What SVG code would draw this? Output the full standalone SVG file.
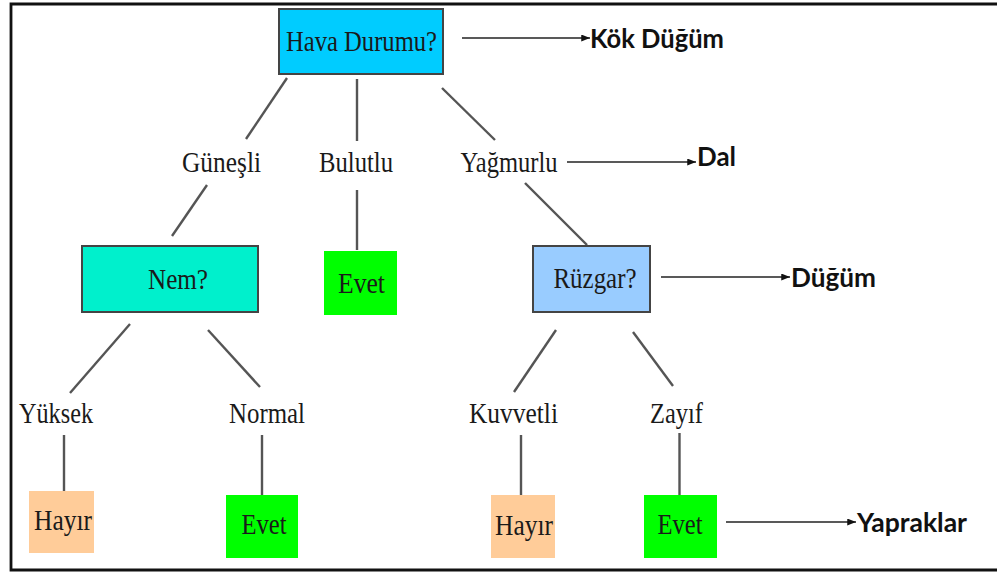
<svg xmlns="http://www.w3.org/2000/svg" width="997" height="572" viewBox="0 0 997 572">
  <defs>
    <marker id="head" viewBox="0 0 10 8" refX="10" refY="4" markerWidth="9" markerHeight="7" markerUnits="userSpaceOnUse" orient="auto">
      <path d="M0,0 L10,4 L0,8 Z" fill="#111"/>
    </marker>
    <style>
      .frame { fill: none; stroke: #111; stroke-width: 2.8; }
      .box { stroke: #444; stroke-width: 2; }
      .leaf { stroke: none; }
      .edge { stroke: #555; stroke-width: 2.4; fill: none; }
      .pointer { stroke: #222; stroke-width: 1.6; fill: none; marker-end: url(#head); }
      .serif { font-family: "Liberation Serif", "Times New Roman", serif; font-size: 28.5px; fill: #1a1a1a; text-anchor: middle; }
      .note { font-family: Lato, "Noto Sans", sans-serif; font-weight: bold; font-size: 27px; fill: #111; }
    </style>
  </defs>

  <rect width="997" height="572" fill="#fff"/>

  <!-- page frame, open on the right -->
  <path class="frame" d="M1000,4 H11 V570 H1000"/>

  <!-- tree edges and labelling pointers -->
  <g id="connectors">
    <line class="edge" x1="287" y1="78" x2="246" y2="139"/>
    <line class="edge" x1="357" y1="79" x2="357" y2="141"/>
    <line class="edge" x1="442" y1="88" x2="495" y2="140"/>
    <line class="edge" x1="207" y1="185" x2="172" y2="236"/>
    <line class="edge" x1="357" y1="190" x2="357" y2="250"/>
    <line class="edge" x1="525" y1="183" x2="587" y2="245"/>
    <line class="edge" x1="130" y1="324" x2="70" y2="393"/>
    <line class="edge" x1="208" y1="330" x2="260" y2="387"/>
    <line class="edge" x1="556" y1="330" x2="514" y2="392"/>
    <line class="edge" x1="633" y1="332" x2="673" y2="386"/>
    <line class="edge" x1="64" y1="435" x2="64" y2="491"/>
    <line class="edge" x1="262" y1="435" x2="262" y2="495"/>
    <line class="edge" x1="521" y1="435" x2="521" y2="495"/>
    <line class="edge" x1="679.5" y1="433" x2="679.5" y2="495"/>

    <line class="pointer" x1="462" y1="38" x2="590" y2="38"/>
    <line class="pointer" x1="567" y1="162" x2="696" y2="162"/>
    <line class="pointer" x1="661" y1="277" x2="790" y2="277"/>
    <line class="pointer" x1="726" y1="522" x2="856" y2="522"/>
  </g>

  <!-- decision nodes -->
  <g id="node-hava">
    <rect class="box" x="279" y="9" width="164" height="65" fill="#00CCFF"/>
    <text class="serif" x="361.5" y="51" textLength="151" lengthAdjust="spacingAndGlyphs">Hava Durumu?</text>
  </g>
  <g id="node-nem">
    <rect class="box" x="82" y="246" width="176" height="66" fill="#00F0CC"/>
    <text class="serif" x="178" y="289" textLength="60" lengthAdjust="spacingAndGlyphs">Nem?</text>
  </g>
  <g id="node-ruzgar">
    <rect class="box" x="533" y="246" width="117" height="66" fill="#99CCFF"/>
    <text class="serif" x="595" y="288" textLength="83" lengthAdjust="spacingAndGlyphs">Rüzgar?</text>
  </g>

  <!-- branch labels -->
  <g id="branch-gunesli"><text class="serif" x="221.5" y="172" textLength="79" lengthAdjust="spacingAndGlyphs">Güneşli</text></g>
  <g id="branch-bulutlu"><text class="serif" x="356" y="172" textLength="74" lengthAdjust="spacingAndGlyphs">Bulutlu</text></g>
  <g id="branch-yagmurlu"><text class="serif" x="509" y="172" textLength="97" lengthAdjust="spacingAndGlyphs">Yağmurlu</text></g>
  <g id="branch-yuksek"><text class="serif" x="56" y="423" textLength="74" lengthAdjust="spacingAndGlyphs">Yüksek</text></g>
  <g id="branch-normal"><text class="serif" x="267" y="423" textLength="76" lengthAdjust="spacingAndGlyphs">Normal</text></g>
  <g id="branch-kuvvetli"><text class="serif" x="513.5" y="423" textLength="89" lengthAdjust="spacingAndGlyphs">Kuvvetli</text></g>
  <g id="branch-zayif"><text class="serif" x="676.5" y="423" textLength="53" lengthAdjust="spacingAndGlyphs">Zayıf</text></g>

  <!-- leaf nodes -->
  <g id="leaf-evet-1">
    <rect class="leaf" x="324" y="251" width="73" height="64" fill="#00FF00"/>
    <text class="serif" x="361.5" y="293" textLength="47" lengthAdjust="spacingAndGlyphs">Evet</text>
  </g>
  <g id="leaf-hayir-1">
    <rect class="leaf" x="29" y="491" width="65" height="62" fill="#FFCC99"/>
    <text class="serif" x="63" y="530" textLength="58" lengthAdjust="spacingAndGlyphs">Hayır</text>
  </g>
  <g id="leaf-evet-2">
    <rect class="leaf" x="226" y="495" width="72" height="63" fill="#00FF00"/>
    <text class="serif" x="264" y="534" textLength="45" lengthAdjust="spacingAndGlyphs">Evet</text>
  </g>
  <g id="leaf-hayir-2">
    <rect class="leaf" x="491" y="495" width="64" height="63" fill="#FFCC99"/>
    <text class="serif" x="524" y="535" textLength="58" lengthAdjust="spacingAndGlyphs">Hayır</text>
  </g>
  <g id="leaf-evet-3">
    <rect class="leaf" x="644" y="495" width="73" height="63" fill="#00FF00"/>
    <text class="serif" x="680" y="534" textLength="45" lengthAdjust="spacingAndGlyphs">Evet</text>
  </g>

  <!-- term captions -->
  <g id="caption-kok"><text class="note" x="590" y="48" textLength="134" lengthAdjust="spacingAndGlyphs">Kök Düğüm</text></g>
  <g id="caption-dal"><text class="note" x="697" y="166" textLength="39" lengthAdjust="spacingAndGlyphs">Dal</text></g>
  <g id="caption-dugum"><text class="note" x="791" y="287" textLength="85" lengthAdjust="spacingAndGlyphs">Düğüm</text></g>
  <g id="caption-yapraklar"><text class="note" x="857" y="532" textLength="110" lengthAdjust="spacingAndGlyphs">Yapraklar</text></g>
</svg>
